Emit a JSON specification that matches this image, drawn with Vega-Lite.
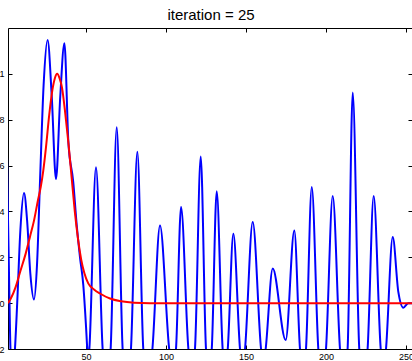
{
  "$schema": "https://vega.github.io/schema/vega-lite/v6.json",
  "width": 404,
  "height": 321,
  "autosize": {"type": "none"},
  "padding": {"left": 8, "top": 28, "right": 0, "bottom": 12},
  "background": "white",
  "title": {
    "text": "iteration = 25",
    "font": "Liberation Sans",
    "fontSize": 15,
    "fontWeight": "normal",
    "color": "black",
    "anchor": "middle",
    "baseline": "alphabetic",
    "offset": 9,
    "dx": 1,
    "dy": 16
  },
  "config": {
    "view": {"stroke": null},
    "axis": {
      "grid": false,
      "title": null,
      "domainColor": "black",
      "domainWidth": 1,
      "tickColor": "black",
      "tickWidth": 1,
      "tickSize": -4,
      "labelColor": "black",
      "labelFont": "Liberation Sans",
      "labelFontSize": 9
    }
  },
  "datasets": {
    "fit": [
      {"x": 0.5, "y": 0.7}, {"x": 1.25, "y": 0.37}, {"x": 2, "y": 0.08}, {"x": 2.8, "y": -0.2},
      {"x": 4.2, "y": -0.32}, {"x": 5.6, "y": -0.2}, {"x": 7, "y": 0}, {"x": 9, "y": 0.32},
      {"x": 11.25, "y": 0.48}, {"x": 13.2, "y": 0.36}, {"x": 15.2, "y": 0.13}, {"x": 17.5, "y": 0.016},
      {"x": 19.4, "y": 0.17}, {"x": 21.25, "y": 0.53}, {"x": 23.5, "y": 0.95}, {"x": 26, "y": 1.148},
      {"x": 28.6, "y": 0.9}, {"x": 31.25, "y": 0.54}, {"x": 33.9, "y": 0.9}, {"x": 36.5, "y": 1.133},
      {"x": 39, "y": 0.7}, {"x": 42, "y": 0.53}, {"x": 44.2, "y": 0.34}, {"x": 46.25, "y": 0.2},
      {"x": 48.3, "y": 0.08}, {"x": 50, "y": -0.1}, {"x": 50.8, "y": -0.2}, {"x": 51.5, "y": -0.25},
      {"x": 52.1, "y": -0.2}, {"x": 56.25, "y": 0.593}, {"x": 60.4, "y": -0.2}, {"x": 62.9, "y": -0.35},
      {"x": 65.4, "y": -0.2}, {"x": 69.2, "y": 0.767}, {"x": 72.9, "y": -0.2}, {"x": 75.5, "y": -0.35},
      {"x": 78.1, "y": -0.2}, {"x": 82.1, "y": 0.66}, {"x": 85.8, "y": -0.2}, {"x": 88.6, "y": -0.35},
      {"x": 91.5, "y": -0.2}, {"x": 96.25, "y": 0.339}, {"x": 102, "y": -0.2}, {"x": 104.1, "y": -0.3},
      {"x": 106.25, "y": -0.2}, {"x": 109.4, "y": 0.419}, {"x": 114, "y": -0.2}, {"x": 116, "y": -0.3},
      {"x": 118.1, "y": -0.2}, {"x": 121.7, "y": 0.64}, {"x": 125, "y": -0.2}, {"x": 126.8, "y": -0.3},
      {"x": 128.6, "y": -0.2}, {"x": 131.7, "y": 0.488}, {"x": 135.4, "y": -0.2}, {"x": 137, "y": -0.3},
      {"x": 138.6, "y": -0.2}, {"x": 142.1, "y": 0.303}, {"x": 146.25, "y": -0.2}, {"x": 147.8, "y": -0.3},
      {"x": 149.4, "y": -0.2}, {"x": 154.2, "y": 0.354}, {"x": 159.4, "y": -0.2}, {"x": 160.8, "y": -0.28},
      {"x": 162.3, "y": -0.2}, {"x": 166.7, "y": 0.151}, {"x": 174.8, "y": -0.161}, {"x": 180.2, "y": 0.317},
      {"x": 183.75, "y": -0.2}, {"x": 185.6, "y": -0.3}, {"x": 187.5, "y": -0.2}, {"x": 191.1, "y": 0.506},
      {"x": 195.2, "y": -0.2}, {"x": 197.6, "y": -0.35}, {"x": 200, "y": -0.2}, {"x": 204.2, "y": 0.467},
      {"x": 208.75, "y": -0.2}, {"x": 211.1, "y": -0.35}, {"x": 213.5, "y": -0.2}, {"x": 216.7, "y": 0.919},
      {"x": 220.8, "y": -0.2}, {"x": 223.4, "y": -0.35}, {"x": 226, "y": -0.2}, {"x": 229.8, "y": 0.467},
      {"x": 234.2, "y": -0.2}, {"x": 235.9, "y": -0.3}, {"x": 237.5, "y": -0.2}, {"x": 241.7, "y": 0.288},
      {"x": 245.2, "y": 0.049}, {"x": 248.3, "y": -0.02}, {"x": 251.4, "y": 0.0}, {"x": 254, "y": 0.0}
    ],
    "target": [
      {"x": 1.25, "y": 0}, {"x": 3, "y": 0.02}, {"x": 6, "y": 0.07}, {"x": 9, "y": 0.14},
      {"x": 12.3, "y": 0.216}, {"x": 15, "y": 0.29}, {"x": 17.5, "y": 0.36}, {"x": 20, "y": 0.45},
      {"x": 21.7, "y": 0.506}, {"x": 23.3, "y": 0.578}, {"x": 25, "y": 0.68}, {"x": 27, "y": 0.82},
      {"x": 29, "y": 0.93}, {"x": 30.5, "y": 0.98}, {"x": 32, "y": 1.0}, {"x": 33.5, "y": 0.98},
      {"x": 35, "y": 0.94}, {"x": 37, "y": 0.83}, {"x": 39, "y": 0.7}, {"x": 41, "y": 0.55},
      {"x": 43, "y": 0.4}, {"x": 45, "y": 0.28}, {"x": 47, "y": 0.19}, {"x": 49, "y": 0.13},
      {"x": 51.4, "y": 0.086}, {"x": 55, "y": 0.06}, {"x": 58.75, "y": 0.042}, {"x": 65, "y": 0.02},
      {"x": 72, "y": 0.008}, {"x": 80, "y": 0.002}, {"x": 90, "y": 0}, {"x": 254, "y": 0}
    ]
  },
  "layer": [
    {
      "data": {"name": "fit"},
      "mark": {"type": "line", "color": "#0000ff", "strokeWidth": 2, "interpolate": "monotone", "clip": true},
      "encoding": {
        "x": {
          "field": "x", "type": "quantitative",
          "scale": {"domain": [1.25, 253.75], "nice": false, "zero": false},
          "axis": {"orient": "bottom", "values": [50, 100, 150, 200, 250], "labelPadding": 7, "labelBaseline": "top"}
        },
        "y": {
          "field": "y", "type": "quantitative",
          "scale": {"domain": [-0.2, 1.2], "nice": false, "zero": false},
          "axis": {"orient": "left", "values": [-0.2, 0, 0.2, 0.4, 0.6, 0.8, 1], "format": "~g", "labelPadding": 8}
        }
      }
    },
    {
      "data": {"name": "target"},
      "mark": {"type": "line", "color": "#ff0000", "strokeWidth": 2, "interpolate": "monotone", "clip": true},
      "encoding": {
        "x": {
          "field": "x", "type": "quantitative",
          "axis": {"orient": "top", "values": [50, 100, 150, 200, 250], "labels": false}
        },
        "y": {
          "field": "y", "type": "quantitative",
          "axis": {"orient": "right", "values": [-0.2, 0, 0.2, 0.4, 0.6, 0.8, 1], "labels": false, "domain": false}
        }
      }
    }
  ],
  "resolve": {"axis": {"x": "independent", "y": "independent"}}
}
